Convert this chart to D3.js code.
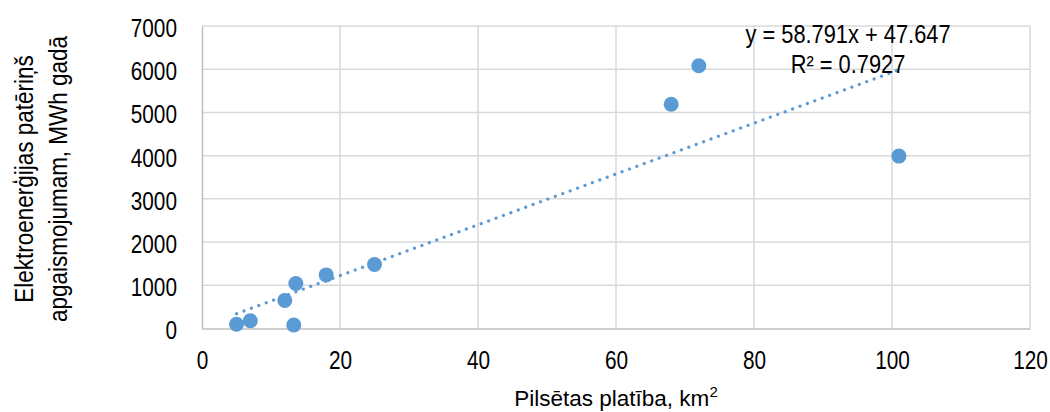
<!DOCTYPE html>
<html>
<head>
<meta charset="utf-8">
<script src="https://cdn.jsdelivr.net/npm/d3@7/dist/d3.min.js"></script>
<style>
  body { margin: 0; background: #fff; }
  text { font-family: "Liberation Sans", Arial, sans-serif; fill: #000; }
</style>
</head>
<body>
<div id="graph"></div>
<script>
const width = 1050;
const height = 412;
const margin = { top: 26, right: 20, bottom: 83.5, left: 202 };

// data
const areaKm2 = [5, 7, 13.3, 12, 13.6, 18, 25, 68, 72, 101];
const energyMWh = [100, 180, 80, 650, 1040, 1240, 1480, 5190, 6080, 3990];
const xTicks = [0, 20, 40, 60, 80, 100, 120];
const yTicks = [0, 1000, 2000, 3000, 4000, 5000, 6000, 7000];
// trendline from the label
const slope = 58.791;
const intercept = 47.647;
const rSquared = 0.7927;

const narrow = 0.8; // the reference font is condensed

const innerWidth = width - margin.left - margin.right;
const innerHeight = height - margin.top - margin.bottom;

const svg = d3.select("#graph").append("svg")
  .attr("width", width)
  .attr("height", height);

const g = svg.append("g").attr("transform", `translate(${margin.left},${margin.top})`);

const x = d3.scaleLinear().domain([0, 120]).range([0, innerWidth]);
const y = d3.scaleLinear().domain([0, 7000]).range([innerHeight, 0]);

// grid
g.selectAll(".vgrid").data(xTicks.slice(1)).enter().append("line")
  .attr("x1", d => x(d)).attr("x2", d => x(d))
  .attr("y1", 0).attr("y2", innerHeight)
  .attr("stroke", "#d9d9d9").attr("stroke-width", 1.5);
g.selectAll(".hgrid").data(yTicks.slice(1)).enter().append("line")
  .attr("x1", 0).attr("x2", innerWidth)
  .attr("y1", d => y(d)).attr("y2", d => y(d))
  .attr("stroke", "#d9d9d9").attr("stroke-width", 1.5);

// axes
const xAxis = g.append("g").attr("transform", `translate(0,${innerHeight})`)
  .call(d3.axisBottom(x).tickValues(xTicks).tickSize(0).tickPadding(22).tickFormat(d3.format("d")));
const yAxis = g.append("g")
  .call(d3.axisLeft(y).tickValues(yTicks).tickSize(0).tickPadding(25).tickFormat(d3.format("d")));
[xAxis, yAxis].forEach(a => {
  a.select(".domain").attr("stroke", "#bfbfbf").attr("stroke-width", 1.5);
  a.selectAll("text").attr("font-size", 26).attr("font-family", null)
    .attr("transform", `scale(${narrow},1)`);
});
yAxis.selectAll("text").attr("x", -25 / narrow).attr("dy", "0.4em");

// trendline
const xs = d3.extent(areaKm2);
g.append("line")
  .attr("x1", x(xs[0])).attr("y1", y(slope * xs[0] + intercept))
  .attr("x2", x(xs[1])).attr("y2", y(slope * xs[1] + intercept))
  .attr("stroke", "#5b9bd5").attr("stroke-width", 3.2)
  .attr("stroke-linecap", "round").attr("stroke-dasharray", "0.1 7.8");

// points
g.selectAll("circle").data(areaKm2).enter().append("circle")
  .attr("cx", d => x(d))
  .attr("cy", (d, i) => y(energyMWh[i]))
  .attr("r", 7.5)
  .attr("fill", "#5b9bd5");

// equation label
const eq = svg.append("text").attr("text-anchor", "middle").attr("font-size", 26)
  .attr("transform", "translate(848,0) scale(0.84,1)");
eq.append("tspan").attr("x", 0).attr("y", 43).text(`y = ${slope}x + ${intercept}`);
eq.append("tspan").attr("x", 0).attr("y", 73).text(`R² = ${rSquared}`);

// axis titles
svg.append("text")
  .attr("x", 616).attr("y", 406)
  .attr("text-anchor", "middle").attr("font-size", 22.5)
  .text("Pilsētas platība, km")
  .append("tspan").attr("dy", -9).attr("font-size", 15).text("2");

const yt = svg.append("text")
  .attr("transform", "translate(0,179) rotate(-90) scale(0.9,1)")
  .attr("text-anchor", "middle").attr("font-size", 25);
yt.append("tspan").attr("x", 0).attr("y", 33).text("Elektroenerģijas patēriņš");
yt.append("tspan").attr("x", 0).attr("y", 67).text("apgaismojumam, MWh gadā");
</script>
</body>
</html>
